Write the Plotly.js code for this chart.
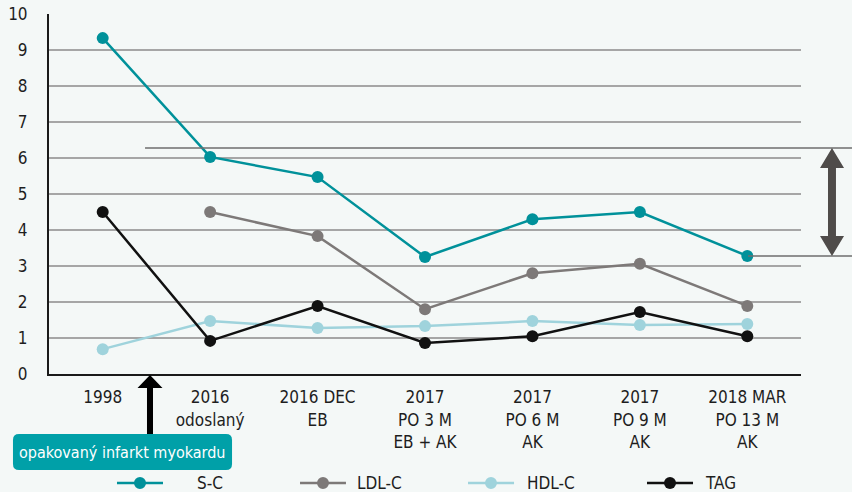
<!DOCTYPE html>
<html><head><meta charset="utf-8">
<script src="https://cdn.plot.ly/plotly-3.0.1.min.js"></script>
<style>html,body{margin:0;padding:0;background:#f4f8f7;}#chart{width:852px;height:492px;}</style>
</head><body><div id="chart"></div>
<script>
const categories = ["1998", "2016<br>odoslaný", "2016 DEC<br>EB", "2017<br>PO 3 M<br>EB + AK", "2017<br>PO 6 M<br>AK", "2017<br>PO 9 M<br>AK", "2018 MAR<br>PO 13 M<br>AK"];
const sc  = [9.33, 6.03, 5.47, 3.25, 4.3, 4.5, 3.28];
const ldl = [null, 4.5, 3.83, 1.8, 2.8, 3.06, 1.89];
const hdl = [0.69, 1.47, 1.28, 1.33, 1.47, 1.36, 1.39];
const tag = [4.5, 0.92, 1.89, 0.86, 1.05, 1.72, 1.05];
const seriesNames = ["S-C", "LDL-C", "HDL-C", "TAG"];
const seriesColors = ["#00919a", "#7d7978", "#9fd3dc", "#111111"];
const targetTop = 6.28;
const noteText = "opakovaný infarkt myokardu";

const FONT = '"DejaVu Sans Condensed", "Liberation Sans Narrow", Roboto, sans-serif';
const M = {l: 49, r: 51, t: 14, b: 118};
const W = 852, H = 492, PW = W - M.l - M.r, PH = H - M.t - M.b;
const YMAX = 10;
const px = x => +((x - M.l) / PW).toFixed(4);
const py = y => +((H - M.b - y) / PH).toFixed(4);
const vy = v => H - M.b - v / YMAX * PH; // value -> pixel

const data = [sc, ldl, hdl, tag].map((vals, i) => ({
  type: 'scatter', mode: 'lines+markers', name: seriesNames[i],
  x: categories, y: vals,
  line: {color: seriesColors[i], width: 2.5},
  marker: {color: seriesColors[i], size: 12},
  connectgaps: false, showlegend: false
}));

// double arrow between target level and last S-C value
const yT = vy(targetTop), yB = vy(sc[6]);
const ax = 832, hw = 12, sw = 4, hl = 20;
const dblArrow = `M${px(ax)},${py(yT)} L${px(ax+hw)},${py(yT+hl)} L${px(ax+sw)},${py(yT+hl)} L${px(ax+sw)},${py(yB-hl)} L${px(ax+hw)},${py(yB-hl)} L${px(ax)},${py(yB)} L${px(ax-hw)},${py(yB-hl)} L${px(ax-sw)},${py(yB-hl)} L${px(ax-sw)},${py(yT+hl)} L${px(ax-hw)},${py(yT+hl)} Z`;

// black up arrow
const bx = 150, bt = 375, bhw = 12.5, bsw = 3, bhl = 13, bb = 434;
const upArrow = `M${px(bx)},${py(bt)} L${px(bx+bhw)},${py(bt+bhl)} L${px(bx+bsw)},${py(bt+bhl)} L${px(bx+bsw)},${py(bb)} L${px(bx-bsw)},${py(bb)} L${px(bx-bsw)},${py(bt+bhl)} L${px(bx-bhw)},${py(bt+bhl)} Z`;

// rounded box
const x0 = 13, x1 = 232, y0 = 434, y1 = 470, r = 6;
const box = `M${px(x0+r)},${py(y0)} L${px(x1-r)},${py(y0)} Q${px(x1)},${py(y0)} ${px(x1)},${py(y0+r)} L${px(x1)},${py(y1-r)} Q${px(x1)},${py(y1)} ${px(x1-r)},${py(y1)} L${px(x0+r)},${py(y1)} Q${px(x0)},${py(y1)} ${px(x0)},${py(y1-r)} L${px(x0)},${py(y0+r)} Q${px(x0)},${py(y0)} ${px(x0+r)},${py(y0)} Z`;

const shapes = [
  {type: 'line', xref: 'paper', yref: 'paper', x0: px(145), x1: px(852), y0: py(yT), y1: py(yT), line: {color: '#6e6e6e', width: 1.5}},
  {type: 'line', xref: 'paper', yref: 'paper', x0: px(748), x1: px(852), y0: py(yB), y1: py(yB), line: {color: '#6e6e6e', width: 1.5}},
  {type: 'path', xref: 'paper', yref: 'paper', path: dblArrow, fillcolor: '#4f4c4a', line: {width: 0}},
  {type: 'path', xref: 'paper', yref: 'paper', path: upArrow, fillcolor: '#000000', line: {width: 0}},
  {type: 'path', xref: 'paper', yref: 'paper', path: box, fillcolor: '#00a0a8', line: {width: 0}}
];
const annotations = [
  {xref: 'paper', yref: 'paper', x: px((x0+x1)/2), y: py((y0+y1)/2 + 1), xanchor: 'center', yanchor: 'middle',
   text: noteText, showarrow: false, font: {size: 16, color: '#ffffff'}}
];

// manual legend row
const legY = 483, legStart = [117, 300, 468, 647], legText = [195, 355, 525, 703];
seriesNames.forEach((n, i) => {
  const s = legStart[i];
  shapes.push({type: 'line', xref: 'paper', yref: 'paper', x0: px(s), x1: px(s+46), y0: py(legY), y1: py(legY), line: {color: seriesColors[i], width: 2.5}});
  shapes.push({type: 'circle', xref: 'paper', yref: 'paper', x0: px(s+17), x1: px(s+29), y0: py(legY+6), y1: py(legY-6), fillcolor: seriesColors[i], line: {width: 0}});
  annotations.push({xref: 'paper', yref: 'paper', x: px(legText[i]), y: py(legY), xanchor: 'left', yanchor: 'middle',
    text: n, showarrow: false, font: {size: 17, color: '#1e1e1e'}});
});

const layout = {
  width: W, height: H,
  margin: {l: M.l, r: M.r, t: M.t, b: M.b, autoexpand: false},
  paper_bgcolor: '#f4f8f7', plot_bgcolor: '#f4f8f7',
  font: {family: FONT, size: 17, color: '#1e1e1e'},
  showlegend: false,
  xaxis: {type: 'category', range: [-0.5, 6.5], showgrid: false, zeroline: false,
    showline: true, linecolor: '#1a1a1a', linewidth: 2, ticks: '', tickfont: {size: 17},
    ticklabelstandoff: 7, fixedrange: true},
  yaxis: {range: [0, YMAX], dtick: 1, showgrid: true, gridcolor: '#a6a6a6', gridwidth: 1.5,
    zeroline: false, showline: true, linecolor: '#1a1a1a', linewidth: 2, ticks: '',
    tickfont: {size: 17}, ticklabelstandoff: 16, fixedrange: true},
  shapes: shapes,
  annotations: annotations
};
Plotly.newPlot('chart', data, layout, {displayModeBar: false, staticPlot: true});
</script></body></html>
